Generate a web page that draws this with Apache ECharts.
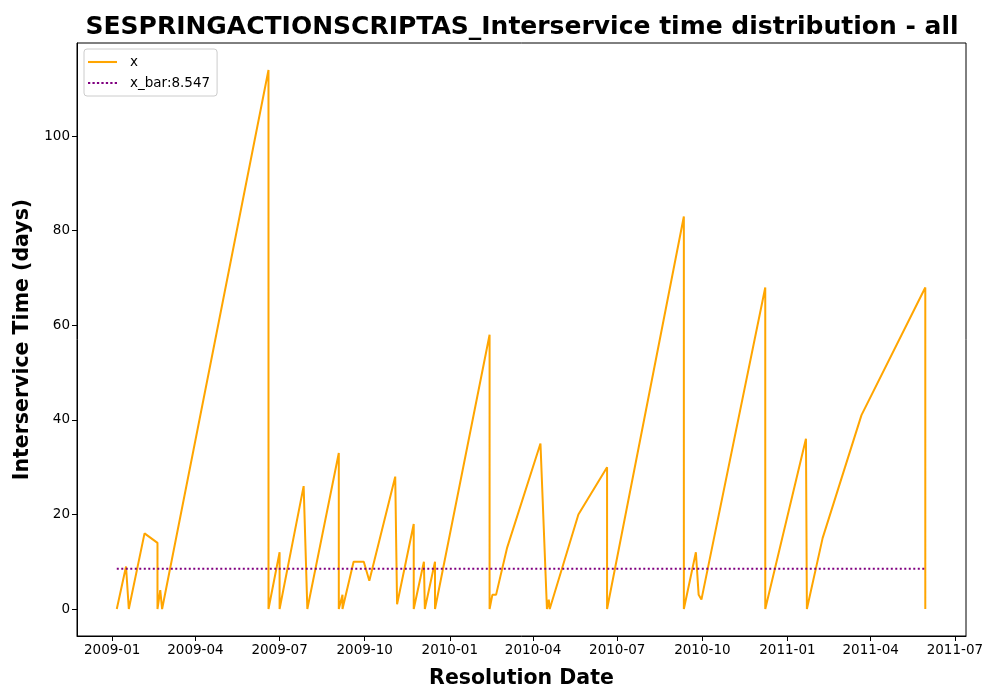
<!DOCTYPE html>
<html>
<head>
<meta charset="utf-8">
<script src="https://cdn.jsdelivr.net/npm/echarts@6/dist/echarts.min.js"></script>
<style>html,body{margin:0;padding:0;background:#fff}#c{width:1000px;height:700px}</style>
</head>
<body>
<div id="c"></div>
<script>
var titleText = 'SESPRINGACTIONSCRIPTAS_Interservice time distribution - all';
var xLabel = 'Resolution Date';
var yLabel = 'Interservice Time (days)';
var dates = ['2009-01-06','2009-01-16','2009-01-19','2009-02-05','2009-02-19','2009-02-19','2009-02-22','2009-02-24',
  '2009-06-19','2009-06-19','2009-07-01','2009-07-01','2009-07-27','2009-07-31','2009-09-03','2009-09-03','2009-09-07','2009-09-07',
  '2009-09-19','2009-09-30','2009-10-06','2009-11-03','2009-11-05','2009-11-23','2009-11-23','2009-12-04','2009-12-05','2009-12-16','2009-12-16',
  '2010-02-13','2010-02-13','2010-02-16','2010-02-20','2010-03-04','2010-04-09','2010-04-16','2010-04-18','2010-04-19',
  '2010-05-20','2010-06-20','2010-06-20','2010-09-11','2010-09-11','2010-09-24','2010-09-27','2010-09-30',
  '2010-12-08','2010-12-08','2011-01-21','2011-01-22','2011-02-08','2011-03-22','2011-05-30','2011-05-30'];
var values = [0,9,0,16,14,0,4,0,
  114,0,12,0,26,0,33,0,3,0,
  10,10,6,28,1,18,0,10,0,10,0,
  58,0,3,3,13,35,0,2,0,
  20,30,0,83,0,12,3,2,
  68,0,36,0,15,41,68,0];
var meanValue = 8.547;
var xTickLabels = ['2009-01','2009-04','2009-07','2009-10','2010-01','2010-04','2010-07','2010-10','2011-01','2011-04','2011-07'];
var yTickValues = [0,20,40,60,80,100];
var xRange = ['2008-11-24','2011-07-13'];
var yRange = [-5.7, 119.7];

function ts(s){ var p=s.split('-'); return Date.UTC(+p[0], +p[1]-1, p[2]?+p[2]:1); }
var lineData = dates.map(function(d,i){ return [ts(d), values[i]]; });
var meanData = [[ts(dates[0]), meanValue],[ts(dates[dates.length-1]), meanValue]];
var xTicks = xTickLabels.map(ts);

var solidIcon = 'path://M0,5L28,5L28,7L0,7Z';
var dottedIcon = 'path://M0,5h2.2v2h-2.2zM4.3,5h2.2v2h-2.2zM8.6,5h2.2v2h-2.2zM12.9,5h2.2v2h-2.2zM17.2,5h2.2v2h-2.2zM21.5,5h2.2v2h-2.2zM25.8,5h2.2v2h-2.2z';

var chart = echarts.init(document.getElementById('c'));
var font = 'DejaVu Sans';
chart.setOption({
  animation:false,
  backgroundColor:'#fff',
  textStyle:{fontFamily:font},
  title:{text:titleText,left:517,textAlign:'center',top:10,
    textStyle:{fontFamily:font,fontSize:25,fontWeight:'bold',color:'#000'}},
  grid:{left:77,right:34,top:43,bottom:64,show:true,borderColor:'#000',borderWidth:1,backgroundColor:'transparent'},
  legend:{left:84,top:49,orient:'vertical',backgroundColor:'#fff',borderColor:'#ccc',borderWidth:1,borderRadius:3,
    padding:[6,7,6,4],itemGap:7,itemWidth:29,itemHeight:10,
    textStyle:{fontFamily:font,fontSize:13.5,color:'#000',padding:[0,0,0,8]},
    data:[{name:'x',icon:solidIcon},{name:'x_bar:8.547',icon:dottedIcon}]},
  xAxis:{type:'value',min:ts(xRange[0]),max:ts(xRange[1]),
    name:xLabel,nameLocation:'middle',nameGap:32,
    nameTextStyle:{fontFamily:font,fontSize:20.5,fontWeight:'bold',color:'#000'},
    axisLine:{show:true,onZero:false,lineStyle:{color:'#000',width:1}},
    axisTick:{show:true,length:5,customValues:xTicks,lineStyle:{color:'#000'}},
    axisLabel:{customValues:xTicks,fontFamily:font,fontSize:13.5,color:'#000',margin:7,
      formatter:function(v){var d=new Date(v);var m=d.getUTCMonth()+1;return d.getUTCFullYear()+'-'+(m<10?'0':'')+m;}},
    splitLine:{show:false}},
  yAxis:{type:'value',min:yRange[0],max:yRange[1],
    name:yLabel,nameLocation:'middle',nameGap:42,
    nameTextStyle:{fontFamily:font,fontSize:20.5,fontWeight:'bold',color:'#000'},
    axisLine:{show:true,onZero:false,lineStyle:{color:'#000',width:1}},
    axisTick:{show:true,length:5,customValues:yTickValues,lineStyle:{color:'#000'}},
    axisLabel:{customValues:yTickValues,fontFamily:font,fontSize:13.5,color:'#000',margin:7},
    splitLine:{show:false}},
  series:[
    {name:'x',type:'line',data:lineData,showSymbol:false,symbol:'none',color:'#FFA500',
      lineStyle:{color:'#FFA500',width:2},z:2},
    {name:'x_bar:8.547',type:'line',data:meanData,showSymbol:false,symbol:'none',color:'#800080',
      lineStyle:{color:'#800080',width:2,type:[2,2.5]},z:3}
  ]
});
</script>
</body>
</html>
